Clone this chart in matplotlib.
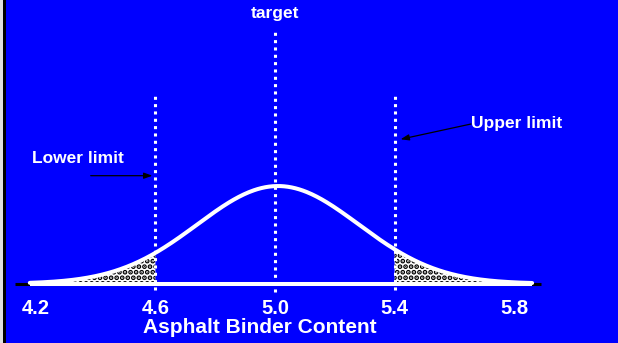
import numpy as np
import matplotlib.pyplot as plt
from matplotlib.patches import Rectangle

# Distribution of asphalt binder content
mean = 5.01
sd = 0.27
x_start, x_end = 4.18, 5.86

target = 5.0
lower_limit = 4.6
upper_limit = 5.4

tick_values = [4.2, 4.6, 5.0, 5.4, 5.8]
tick_labels = ["4.2", "4.6", "5.0", "5.4", "5.8"]

plt.rcParams['font.family'] = ['Liberation Sans', 'DejaVu Sans']
plt.rcParams['font.weight'] = 'bold'
plt.rcParams['hatch.linewidth'] = 2.5

BLUE = '#0000FF'


def pdf(x):
    return np.exp(-0.5 * ((x - mean) / sd) ** 2) / (sd * np.sqrt(2 * np.pi))


fig = plt.figure(figsize=(6.18, 3.43), dpi=100)
fig.patch.set_facecolor(BLUE)
ax = fig.add_axes([0, 50 / 343, 1, 293 / 343])
ax.set_facecolor(BLUE)
ax.set_xlim(4.0803, 6.1472)
ax.set_ylim(-0.1407, 4.292)

# shaded tails outside the limits
x_lo = np.linspace(x_start, lower_limit, 120)
x_hi = np.linspace(upper_limit, x_end, 120)
for xs in (x_lo, x_hi):
    ax.fill_between(xs, 0, pdf(xs), facecolor='white', edgecolor='black',
                    hatch='...', linewidth=0, zorder=1)

# dotted limit / target lines
dots = dict(color='white', lw=2.2, linestyle=(0, (1.0, 1.4)), zorder=2)
ax.plot([lower_limit, lower_limit], [-0.1, 2.855], **dots)
ax.plot([target, target], [-0.12, 3.82], **dots)
ax.plot([upper_limit, upper_limit], [-0.1, 2.885], **dots)

# baseline: black ends under a white line
ax.plot([4.13, 5.89], [0, 0], color='black', lw=2.2, solid_capstyle='butt', zorder=3)
ax.plot([x_start, x_end], [0, 0], color='white', lw=2.9, solid_capstyle='butt', zorder=4)

# bell curve
xc = np.linspace(x_start, x_end, 400)
ax.plot(xc, pdf(xc), color='white', lw=2.9, solid_capstyle='round', zorder=5)

# labels and arrows
ax.text(target, 3.98, "target", color='white', fontsize=12.5, ha='center', va='bottom')
ax.text(4.187, 1.887, "Lower limit", color='white', fontsize=12.5, ha='left', va='center')
ax.text(5.656, 2.431, "Upper limit", color='white', fontsize=12.5, ha='left', va='center')

arrow = dict(arrowstyle='-|>,head_length=0.5,head_width=0.18', color='black', lw=0.9,
             shrinkA=0, shrinkB=0)
ax.annotate("", xy=(lower_limit - 0.01, 1.634), xytext=(4.3836, 1.634), arrowprops=arrow)
ax.annotate("", xy=(upper_limit + 0.02, 2.185), xytext=(5.6555, 2.416), arrowprops=arrow)

ax.set_xticks(tick_values)
ax.set_xticklabels(tick_labels)
ax.tick_params(axis='x', length=0, pad=4, colors='white', labelsize=14.5)
ax.set_yticks([])
for s in ax.spines.values():
    s.set_visible(False)

ax.set_xlabel("Asphalt Binder Content", color='white', fontsize=15, fontweight='bold')
ax.xaxis.set_label_coords(259.5 / 618, -0.086)

# left frame edge
fig.add_artist(Rectangle((0, 0), 2.7 / 618, 1, transform=fig.transFigure,
                         color='#e0e0e0', lw=0))
fig.add_artist(Rectangle((2.7 / 618, 0), 3.3 / 618, 1, transform=fig.transFigure,
                         color='black', lw=0))

fig.savefig('out.png', dpi=100, facecolor=BLUE)
